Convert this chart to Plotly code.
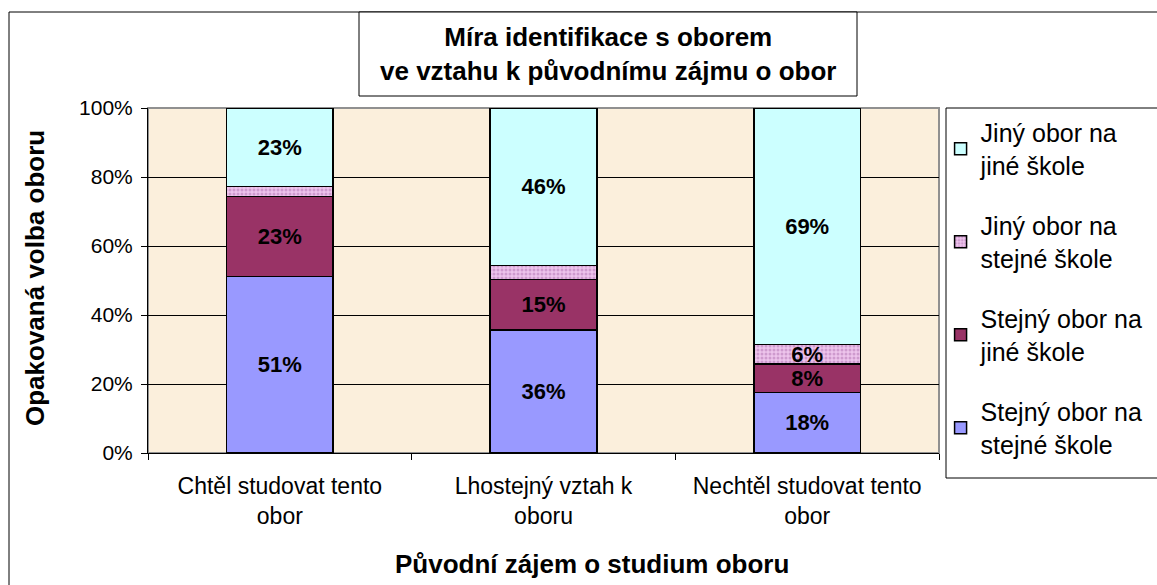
import plotly.graph_objects as go

categories = ["Chtěl studovat tento<br>obor", "Lhostejný vztah k<br>oboru", "Nechtěl studovat tento<br>obor"]

series_names = [
    "Stejný obor na<br>stejné škole",
    "Stejný obor na<br>jiné škole",
    "Jiný obor na<br>stejné škole",
    "Jiný obor na<br>jiné škole",
]
stejny_stejna = [51.2, 35.6, 17.6]
stejny_jina = [23.1, 14.7, 8.2]
jiny_stejna = [3.0, 4.1, 5.6]
jiny_jina = [22.7, 45.6, 68.6]
show_label = [
    [True, True, True],
    [True, True, True],
    [False, False, True],
    [True, True, True],
]
series_values = [stejny_stejna, stejny_jina, jiny_stejna, jiny_jina]
colors = ["#9999FF", "#993366", "#EDC4EC", "#CCFFFF"]

y_ticks = [0, 20, 40, 60, 80, 100]

FONT = "Liberation Sans, Arial, sans-serif"

fig = go.Figure()
for i, (name, vals) in enumerate(zip(series_names, series_values)):
    texts = [f"{round(v):d}%" if s else "" for v, s in zip(vals, show_label[i])]
    marker = dict(color=colors[i], line=dict(color="black", width=1.5))
    if i == 2:
        marker["pattern"] = dict(shape=".", fgcolor="#B070B0", bgcolor="#EDC4EC", size=4, solidity=0.45)
    fig.add_trace(go.Bar(
        x=categories, y=vals, name=name, marker=marker,
        text=texts, textposition="inside", insidetextanchor="middle",
        textfont=dict(family=FONT, size=22, color="black", weight="bold"),
        width=0.405, legendgroup=f"g{i}", legendrank=len(series_names) - i,
        cliponaxis=False,
    ))

fig.update_layout(
    width=1157, height=585,
    barmode="stack",
    paper_bgcolor="white",
    plot_bgcolor="#FBEFDC",
    margin=dict(l=148, r=218, t=108, b=132, autoexpand=False),
    font=dict(family=FONT, size=21, color="black"),
    uniformtext=dict(minsize=22, mode="show"),
    showlegend=True,
    legend=dict(
        x=1.002, xanchor="left", y=0.995, yanchor="top",
        traceorder="grouped", tracegroupgap=25,
        borderwidth=0, bgcolor="rgba(0,0,0,0)",
        font=dict(family=FONT, size=25, color="black"),
        itemwidth=30, maxheight=420,
    ),
)

fig.update_xaxes(
    showline=True, linecolor="black", linewidth=1,
    ticks="outside", tickson="boundaries", ticklen=6, tickcolor="black",
    tickfont=dict(family=FONT, size=23, color="black"),
    ticklabelstandoff=12,
    showgrid=False,
)
fig.update_yaxes(
    range=[0, 100.02], tickvals=y_ticks, ticktext=[f"{t}%" for t in y_ticks],
    showline=True, linecolor="black", linewidth=1,
    ticks="outside", ticklen=6, tickcolor="black",
    tickfont=dict(family=FONT, size=21, color="black"),
    ticklabelstandoff=4,
    showgrid=True, gridcolor="black", gridwidth=1,
    zeroline=False,
)

# chart outer border, legend box, plot border, title box
fig.add_shape(type="rect", xref="paper", yref="paper",
              x0=(9 - 148) / 791, x1=1.4, y0=-0.5, y1=(453 - 12) / 345,
              line=dict(color="black", width=1), layer="below")
fig.add_shape(type="rect", xref="paper", yref="paper",
              x0=(946 - 148) / 791, x1=1.4, y0=(453 - 478) / 345, y1=1.0,
              line=dict(color="black", width=1), fillcolor="white", layer="below")
fig.add_shape(type="rect", xref="paper", yref="paper",
              x0=0, x1=1, y0=0, y1=1,
              line=dict(color="#909090", width=2), layer="between")
fig.add_shape(type="rect", xref="paper", yref="paper",
              x0=(359 - 148) / 791, x1=(857 - 148) / 791,
              y0=(453 - 96) / 345, y1=(453 - 12) / 345,
              line=dict(color="black", width=1), fillcolor="white", layer="above")

fig.add_annotation(
    text="<b>Míra identifikace s oborem<br>ve vztahu k původnímu zájmu o obor</b>",
    xref="paper", yref="paper", x=(608 - 148) / 791, y=(453 - 54) / 345,
    xanchor="center", yanchor="middle", showarrow=False,
    font=dict(family=FONT, size=26, color="black"),
)
fig.add_annotation(
    text="<b>Opakovaná volba oboru</b>", textangle=-90,
    xref="paper", yref="paper", x=(35 - 148) / 791, y=(453 - 278) / 345,
    xanchor="center", yanchor="middle", showarrow=False,
    font=dict(family=FONT, size=26, color="black"),
)
fig.add_annotation(
    text="<b>Původní zájem o studium oboru</b>",
    xref="paper", yref="paper", x=(592 - 148) / 791, y=(453 - 564) / 345,
    xanchor="center", yanchor="middle", showarrow=False,
    font=dict(family=FONT, size=26, color="black"),
)

fig.write_html("out.html", config={"displayModeBar": False},
               post_script="document.body.style.margin='0';")
